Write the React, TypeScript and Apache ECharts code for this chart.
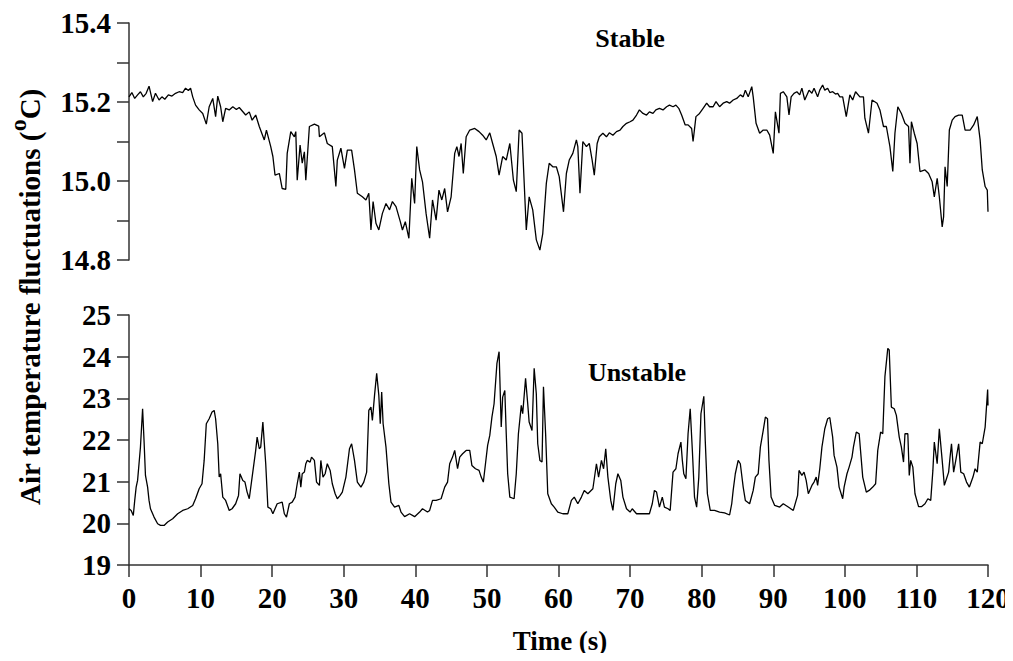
import React, { useEffect, useRef } from "react";
import * as echarts from "echarts";

// ---- Stable case (top panel) ----
const stableTime = [
  0.0, 0.4, 0.8, 1.2, 1.6, 2.0, 2.4, 2.8, 3.3, 3.7, 4.2, 4.6, 5.0, 5.5, 6.0, 6.5, 7.0, 7.5, 7.9, 8.3,
  8.6, 8.9, 9.3, 9.8, 10.3, 10.8, 11.2, 11.7, 12.1, 12.4, 12.8, 13.1, 13.5, 14.0, 14.5, 15.0, 15.4, 16.3, 16.8, 17.2,
  17.7, 18.2, 18.9, 19.2, 19.8, 20.1, 20.4, 21.0, 21.4, 21.9, 22.1, 22.6, 23.1, 23.3, 23.5, 23.9, 24.2, 24.5, 24.7, 25.2,
  25.9, 26.5, 26.6, 27.3, 27.7, 28.4, 28.9, 29.1, 29.6, 30.1, 30.5, 31.1, 31.5, 31.9, 32.6, 33.1, 33.5, 33.8, 34.1, 34.5,
  34.9, 35.4, 35.9, 36.4, 36.8, 37.3, 37.9, 38.2, 38.6, 39.1, 39.5, 39.9, 40.2, 40.6, 41.0, 41.5, 42.0, 42.4, 42.9, 43.3,
  43.7, 44.1, 44.5, 45.0, 45.5, 45.8, 46.1, 46.4, 46.7, 47.1, 47.6, 48.3, 48.9, 49.4, 49.9, 50.4, 50.8, 51.3, 51.7, 52.2,
  52.7, 53.2, 53.7, 54.1, 54.5, 54.9, 55.5, 55.9, 56.4, 56.9, 57.4, 57.8, 58.3, 58.7, 59.2, 59.7, 60.1, 60.7, 61.1, 61.5,
  62.0, 62.5, 62.7, 63.0, 63.4, 63.9, 64.3, 64.7, 65.0, 65.4, 65.7, 66.2, 66.7, 67.1, 67.6, 68.1, 68.6, 69.0, 69.5, 70.0,
  70.4, 70.9, 71.3, 71.8, 72.3, 72.7, 73.2, 73.6, 74.1, 74.6, 75.1, 75.5, 76.0, 76.4, 76.8, 77.2, 77.7, 78.1, 78.6, 78.8,
  79.2, 79.7, 80.2, 80.7, 81.1, 81.6, 82.0, 82.5, 83.0, 83.5, 83.9, 84.4, 84.9, 85.4, 85.8, 86.1, 86.5, 87.0, 87.2, 87.6,
  88.1, 88.6, 89.1, 89.5, 90.0, 90.3, 90.8, 91.0, 91.4, 91.9, 92.2, 92.5, 92.9, 93.3, 93.7, 94.0, 94.4, 95.0, 95.4, 95.7,
  96.2, 96.5, 96.9, 97.2, 97.6, 97.9, 98.3, 98.7, 99.0, 99.3, 99.7, 100.2, 100.7, 101.1, 101.5, 102.1, 102.6, 102.8, 103.3, 103.8,
  104.5, 104.9, 105.4, 105.8, 106.3, 106.7, 107.0, 107.4, 107.9, 108.4, 108.9, 109.1, 109.3, 109.7, 110.1, 110.5, 111.2, 111.7, 112.2, 112.5,
  112.9, 113.2, 113.6, 113.8, 114.0, 114.3, 114.6, 115.0, 115.4, 115.9, 116.4, 116.8, 117.5, 118.0, 118.5, 118.9, 119.2, 119.6, 119.9, 120.0,
];
const stableTemp = [
  15.213, 15.224, 15.209, 15.218, 15.226, 15.213, 15.222, 15.240, 15.201, 15.222, 15.205, 15.213, 15.207, 15.218, 15.215, 15.222, 15.226, 15.224, 15.235, 15.229,
  15.235, 15.213, 15.192, 15.180, 15.171, 15.144, 15.188, 15.209, 15.163, 15.215, 15.188, 15.150, 15.184, 15.180, 15.188, 15.181, 15.186, 15.167, 15.175, 15.154,
  15.167, 15.138, 15.104, 15.129, 15.087, 15.062, 15.015, 15.019, 14.981, 14.979, 15.070, 15.125, 15.112, 15.125, 15.002, 15.091, 15.045, 15.074, 15.002, 15.138,
  15.144, 15.139, 15.112, 15.122, 15.095, 15.087, 14.986, 15.053, 15.083, 15.032, 15.078, 15.078, 15.028, 14.969, 14.960, 14.952, 14.969, 14.876, 14.948, 14.893,
  14.876, 14.918, 14.943, 14.927, 14.948, 14.935, 14.897, 14.876, 14.897, 14.855, 15.007, 14.943, 15.087, 15.028, 14.998, 14.918, 14.855, 14.952, 14.901, 14.977,
  14.952, 14.981, 14.922, 14.960, 15.070, 15.087, 15.062, 15.095, 15.019, 15.112, 15.129, 15.133, 15.125, 15.116, 15.104, 15.122, 15.095, 15.062, 15.015, 15.062,
  15.053, 15.095, 15.002, 14.973, 15.129, 15.121, 14.876, 14.960, 14.927, 14.851, 14.825, 14.867, 14.994, 15.045, 15.036, 15.036, 15.011, 14.922, 15.019, 15.053,
  15.070, 15.104, 15.087, 14.969, 15.100, 15.087, 15.095, 15.053, 15.015, 15.095, 15.112, 15.121, 15.112, 15.122, 15.116, 15.125, 15.129, 15.138, 15.146, 15.150,
  15.154, 15.167, 15.180, 15.171, 15.167, 15.175, 15.171, 15.180, 15.184, 15.180, 15.188, 15.192, 15.188, 15.192, 15.184, 15.167, 15.142, 15.142, 15.133, 15.100,
  15.163, 15.171, 15.184, 15.197, 15.188, 15.188, 15.201, 15.188, 15.197, 15.201, 15.197, 15.205, 15.209, 15.218, 15.213, 15.230, 15.213, 15.239, 15.213, 15.146,
  15.121, 15.129, 15.129, 15.116, 15.070, 15.175, 15.121, 15.222, 15.226, 15.213, 15.167, 15.213, 15.222, 15.226, 15.218, 15.235, 15.205, 15.230, 15.222, 15.235,
  15.213, 15.230, 15.243, 15.230, 15.235, 15.224, 15.226, 15.220, 15.222, 15.213, 15.213, 15.163, 15.218, 15.205, 15.226, 15.213, 15.213, 15.159, 15.121, 15.205,
  15.197, 15.180, 15.138, 15.138, 15.087, 15.024, 15.121, 15.188, 15.171, 15.146, 15.138, 15.045, 15.150, 15.121, 15.095, 15.024, 15.028, 15.019, 14.998, 14.960,
  15.007, 14.960, 14.884, 14.910, 15.036, 14.986, 15.129, 15.154, 15.163, 15.167, 15.167, 15.129, 15.129, 15.142, 15.163, 15.104, 15.028, 14.986, 14.977, 14.922,
];

// ---- Unstable case (bottom panel) ----
const unstableTime = [
  0.0, 0.3, 0.6, 0.8, 1.0, 1.2, 1.4, 1.6, 1.9, 2.1, 2.3, 2.6, 2.8, 3.0, 3.5, 4.0, 4.4, 4.9, 5.4, 6.1,
  6.8, 7.5, 8.2, 8.9, 9.3, 9.8, 10.2, 10.5, 10.8, 11.2, 11.6, 11.9, 12.1, 12.4, 12.6, 12.8, 13.1, 13.5, 14.0, 14.4,
  14.9, 15.3, 15.5, 15.9, 16.2, 16.5, 16.8, 17.2, 17.7, 17.9, 18.2, 18.4, 18.7, 19.1, 19.4, 19.8, 20.1, 20.7, 21.4, 21.7,
  22.0, 22.4, 22.8, 23.2, 23.5, 23.8, 24.0, 24.2, 24.5, 24.7, 24.9, 25.3, 25.5, 25.9, 26.2, 26.6, 26.8, 27.1, 27.4, 27.7,
  28.1, 28.4, 28.8, 29.1, 29.5, 29.8, 30.3, 30.8, 31.1, 31.5, 31.9, 32.4, 32.8, 33.2, 33.5, 33.8, 34.0, 34.3, 34.6, 34.9,
  35.1, 35.3, 35.5, 35.9, 36.3, 36.6, 37.1, 37.7, 38.0, 38.5, 39.2, 39.9, 40.6, 41.0, 41.7, 42.0, 42.4, 42.9, 43.6, 44.1,
  44.5, 44.8, 45.2, 45.5, 45.9, 46.2, 46.6, 47.1, 47.6, 47.9, 48.4, 48.9, 49.2, 49.5, 49.8, 50.1, 50.4, 50.7, 51.0, 51.4,
  51.7, 51.8, 52.0, 52.2, 52.5, 52.7, 52.9, 53.2, 53.8, 54.1, 54.4, 54.8, 55.0, 55.4, 55.7, 55.9, 56.3, 56.6, 56.9, 57.1,
  57.4, 57.7, 57.9, 58.2, 58.5, 59.0, 59.4, 59.9, 60.6, 61.3, 61.8, 62.2, 62.7, 63.2, 63.6, 64.1, 64.8, 65.3, 65.6, 66.0,
  66.3, 66.6, 66.9, 67.3, 67.6, 68.0, 68.3, 68.7, 69.0, 69.5, 70.0, 70.3, 70.9, 71.8, 72.7, 73.1, 73.4, 73.7, 74.1, 74.5,
  74.8, 75.3, 75.6, 76.0, 76.4, 76.7, 77.1, 77.3, 77.5, 77.8, 78.1, 78.4, 78.7, 79.0, 79.3, 79.6, 79.9, 80.3, 80.5, 80.8,
  81.2, 81.8, 82.5, 83.2, 83.9, 84.2, 84.4, 84.7, 85.1, 85.4, 85.8, 86.1, 86.7, 87.2, 87.5, 87.9, 88.2, 88.6, 88.9, 89.2,
  89.4, 89.7, 90.2, 90.9, 91.4, 92.1, 92.8, 93.4, 93.6, 94.0, 94.3, 94.6, 94.9, 95.4, 95.7, 96.0, 96.2, 96.5, 96.8, 97.2,
  97.6, 97.9, 98.3, 98.5, 98.9, 99.2, 99.7, 99.9, 100.3, 100.6, 101.0, 101.2, 101.6, 102.0, 102.5, 103.0, 103.4, 103.9, 104.3, 104.6,
  105.0, 105.3, 105.6, 106.0, 106.2, 106.5, 106.9, 107.2, 107.6, 107.9, 108.2, 108.4, 108.8, 109.0, 109.2, 109.5, 109.8, 110.3, 110.7, 111.2,
  111.6, 112.0, 112.3, 112.5, 112.9, 113.2, 113.6, 113.9, 114.2, 114.5, 114.7, 114.9, 115.2, 115.5, 115.9, 116.2, 116.6, 117.0, 117.4, 117.9,
  118.2, 118.5, 118.7, 118.9, 119.2, 119.6, 119.85, 119.95, 120.0,
];
const unstableTemp = [
  20.35, 20.31, 20.19, 20.55, 20.87, 21.03, 21.43, 21.83, 22.75, 21.99, 21.15, 20.87, 20.55, 20.35, 20.15, 19.99, 19.95, 19.95, 20.03, 20.11,
  20.23, 20.31, 20.35, 20.43, 20.59, 20.83, 20.95, 21.51, 22.39, 22.51, 22.67, 22.71, 22.51, 21.91, 21.11, 21.19, 20.63, 20.55, 20.31, 20.35,
  20.47, 20.67, 21.19, 21.03, 20.99, 20.75, 20.59, 21.11, 21.75, 22.07, 21.79, 21.83, 22.43, 21.43, 20.39, 20.35, 20.23, 20.47, 20.51, 20.23,
  20.15, 20.47, 20.51, 20.63, 20.95, 21.23, 20.87, 21.19, 21.23, 21.43, 21.51, 21.47, 21.59, 21.51, 20.99, 20.91, 21.51, 21.11, 21.19, 21.43,
  21.27, 20.95, 20.71, 20.59, 20.67, 20.75, 21.11, 21.79, 21.91, 21.51, 20.99, 20.87, 20.99, 21.23, 22.71, 22.79, 22.47, 23.07, 23.60, 23.07,
  22.39, 23.15, 22.39, 21.83, 20.95, 20.51, 20.39, 20.43, 20.27, 20.16, 20.23, 20.16, 20.27, 20.35, 20.27, 20.31, 20.55, 20.55, 20.59, 20.87,
  20.99, 21.43, 21.59, 21.75, 21.31, 21.59, 21.67, 21.75, 21.75, 21.39, 21.31, 21.27, 21.11, 20.99, 21.43, 21.87, 22.11, 22.55, 22.87, 23.84,
  24.12, 23.52, 22.31, 23.03, 23.19, 22.15, 21.19, 20.63, 20.59, 21.19, 22.15, 22.83, 22.63, 23.48, 22.87, 22.43, 22.23, 23.72, 23.11, 21.91,
  21.51, 21.47, 23.28, 22.15, 20.71, 20.47, 20.39, 20.27, 20.23, 20.23, 20.55, 20.63, 20.47, 20.63, 20.79, 20.71, 20.83, 21.43, 21.11, 21.51,
  21.31, 21.79, 21.11, 20.55, 20.31, 20.95, 21.19, 21.03, 20.63, 20.35, 20.27, 20.35, 20.23, 20.23, 20.23, 20.47, 20.79, 20.75, 20.39, 20.63,
  20.39, 20.35, 20.31, 21.23, 21.31, 21.67, 21.95, 21.51, 21.19, 21.07, 22.15, 22.75, 21.75, 20.63, 20.39, 21.11, 22.63, 23.05, 21.99, 20.71,
  20.31, 20.31, 20.27, 20.25, 20.20, 20.47, 20.79, 21.19, 21.51, 21.43, 20.87, 20.55, 20.47, 20.79, 21.11, 21.19, 21.83, 22.23, 22.55, 22.51,
  21.51, 20.63, 20.43, 20.39, 20.47, 20.39, 20.31, 20.67, 21.27, 21.15, 21.23, 21.03, 20.71, 20.91, 20.99, 21.11, 20.91, 21.31, 21.83, 22.27,
  22.51, 22.54, 22.07, 21.63, 21.35, 20.87, 20.59, 20.87, 21.19, 21.35, 21.59, 21.83, 22.19, 22.15, 21.11, 20.75, 20.79, 20.87, 20.95, 21.75,
  22.19, 22.15, 23.52, 24.20, 24.16, 22.79, 22.75, 22.59, 22.07, 21.83, 21.47, 22.15, 22.15, 21.15, 21.51, 21.35, 20.71, 20.40, 20.40, 20.47,
  20.59, 20.55, 21.27, 21.95, 21.43, 22.27, 21.51, 20.91, 21.07, 21.23, 21.59, 21.91, 21.23, 21.51, 21.91, 21.23, 21.19, 20.99, 20.87, 21.11,
  21.31, 21.23, 21.59, 21.95, 21.91, 22.31, 22.95, 23.21, 22.83,
];

const xTicks = [0, 120, 10];
const stableRange = [14.8, 15.4, 0.1];
const unstableRange = [19, 25, 1];

const FONT = "'Liberation Serif', 'Times New Roman', serif";
const AXIS_COLOR = "#333";

export default function App() {
  const ref = useRef<HTMLDivElement>(null);

  useEffect(() => {
    if (!ref.current) return;
    const chart = echarts.init(ref.current, undefined, { renderer: "svg" });

    const stableData = stableTime.map((t, i) => [t, stableTemp[i]]);
    const unstableData = unstableTime.map((t, i) => [t, unstableTemp[i]]);

    const axisLine = { show: true, lineStyle: { color: AXIS_COLOR, width: 1.5 } };
    const axisTick = { show: true, inside: false, length: 12, lineStyle: { color: AXIS_COLOR, width: 1.5 } };
    const labelFont = { fontFamily: FONT, fontWeight: "bold" as const, color: "#000" };

    chart.setOption({
      animation: false,
      backgroundColor: "#fff",
      grid: [
        { left: 129, top: 23, width: 859, height: 237 },
        { left: 129, top: 315, width: 859, height: 250 },
      ],
      xAxis: [
        {
          type: "value", gridIndex: 0, min: xTicks[0], max: xTicks[1], interval: xTicks[2],
          show: false,
        },
        {
          type: "value", gridIndex: 1, min: xTicks[0], max: xTicks[1], interval: xTicks[2],
          axisLine, axisTick, splitLine: { show: false },
          axisLabel: { ...labelFont, fontSize: 29, margin: 18 },
        },
      ],
      yAxis: [
        {
          type: "value", gridIndex: 0, min: stableRange[0], max: stableRange[1], interval: stableRange[2],
          axisLine, axisTick, splitLine: { show: false },
          axisLabel: {
            ...labelFont, fontSize: 29, margin: 18,
            formatter: (v: number) => (Math.round(v * 10) % 2 === 0 ? v.toFixed(1) : ""),
          },
        },
        {
          type: "value", gridIndex: 1, min: unstableRange[0], max: unstableRange[1], interval: unstableRange[2],
          axisLine, axisTick, splitLine: { show: false },
          axisLabel: { ...labelFont, fontSize: 29, margin: 18 },
        },
      ],
      series: [
        {
          type: "line", xAxisIndex: 0, yAxisIndex: 0, data: stableData,
          showSymbol: false, symbol: "none", lineStyle: { color: "#000", width: 1.3 },
        },
        {
          type: "line", xAxisIndex: 1, yAxisIndex: 1, data: unstableData,
          showSymbol: false, symbol: "none", lineStyle: { color: "#000", width: 1.3 },
        },
      ],
      graphic: [
        {
          type: "text", x: 630, y: 38,
          style: { text: "Stable", fontFamily: FONT, fontWeight: "bold", fontSize: 26, fill: "#000", align: "center", verticalAlign: "middle" },
        },
        {
          type: "text", x: 637, y: 372,
          style: { text: "Unstable", fontFamily: FONT, fontWeight: "bold", fontSize: 26, fill: "#000", align: "center", verticalAlign: "middle" },
        },
        {
          type: "text", x: 560, y: 641,
          style: { text: "Time (s)", fontFamily: FONT, fontWeight: "bold", fontSize: 27, fill: "#000", align: "center", verticalAlign: "middle" },
        },
        {
          type: "text", x: 30, y: 297, rotation: Math.PI / 2,
          style: {
            text: "Air temperature fluctuations ({sup|o}C)",
            fontFamily: FONT, fontWeight: "bold", fontSize: 29, fill: "#000",
            align: "center", verticalAlign: "middle", lineHeight: 48,
            rich: {
              sup: { fontFamily: FONT, fontWeight: "bold", fontSize: 24, lineHeight: 24, verticalAlign: "top", fill: "#000" },
            },
          },
        },
      ],
    });

    return () => chart.dispose();
  }, []);

  return <div ref={ref} style={{ width: 1013, height: 661, margin: -8 }} />;
}
